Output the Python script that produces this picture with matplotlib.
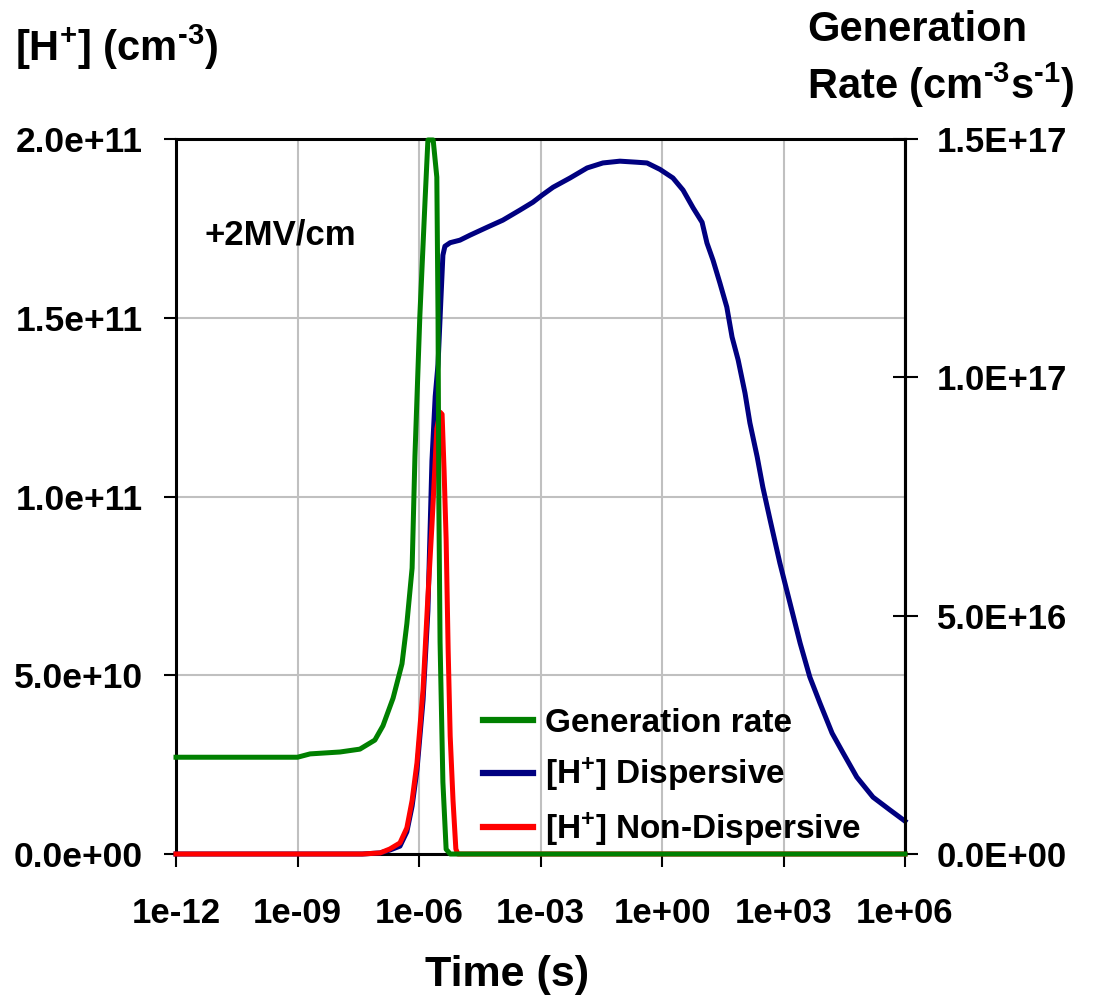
# -*- coding: utf-8 -*-
"""
H+ 浓度与产生率随时间变化曲线
"""

import numpy as np
import matplotlib
matplotlib.use("Agg")
import matplotlib.pyplot as plt
from matplotlib.ticker import FuncFormatter, FixedLocator, NullLocator

plt.rcParams["font.family"] = ["Liberation Sans", "DejaVu Sans"]
plt.rcParams["font.weight"] = "bold"
plt.rcParams["mathtext.fontset"] = "custom"
plt.rcParams["mathtext.rm"] = "Liberation Sans:bold"
plt.rcParams["mathtext.it"] = "Liberation Sans:bold"
plt.rcParams["mathtext.bf"] = "Liberation Sans:bold"
plt.rcParams["mathtext.default"] = "rm"

# 产生率 (cm^-3 s^-1)，时间取 log10(t)
gen_logt = [-12.0, -9.0, -8.69, -7.95, -7.46, -7.09, -6.89, -6.64, -6.42, -6.30,
            -6.17, -6.10, -5.98, -5.85, -5.78, -5.65, -5.56, -5.53, -5.51, -5.48,
            -5.41, -5.33, -5.23, 6.0]
gen_rate = [2.03e16, 2.03e16, 2.10e16, 2.14e16, 2.20e16, 2.39e16, 2.69e16, 3.27e16,
            3.99e16, 4.83e16, 6.0e16, 8.35e16, 1.127e17, 1.372e17, 1.498e17, 1.498e17,
            1.42e17, 1.127e17, 7.36e16, 4.45e16, 1.51e16, 1.0e15, 0.0, 0.0]

# [H+] 色散模型 (cm^-3)
disp_logt = [-12.0, -7.4, -6.96, -6.72, -6.47, -6.30, -6.17, -6.05, -5.90, -5.78,
             -5.68, -5.60, -5.53, -5.46, -5.41, -5.36, -5.23, -4.99, -4.74, -4.32,
             -3.93, -3.51, -3.19, -2.96, -2.69, -2.27, -1.85, -1.46, -1.04, -0.62,
             -0.37, -0.05, 0.27, 0.52, 0.77, 0.99, 1.11, 1.26, 1.43, 1.60,
             1.73, 1.88, 2.05, 2.17, 2.35, 2.49, 2.67, 2.91, 3.16, 3.41,
             3.65, 3.90, 4.20, 4.47, 4.81, 5.21, 5.63, 6.0]
disp_h = [0.0, 0.0, 3e8, 1.1e9, 2.2e9, 6.2e9, 1.34e10, 2.35e10, 4.3e10, 6.8e10,
          1.10e11, 1.28e11, 1.37e11, 1.55e11, 1.675e11, 1.70e11, 1.71e11, 1.717e11, 1.731e11, 1.753e11,
          1.773e11, 1.801e11, 1.823e11, 1.843e11, 1.865e11, 1.891e11, 1.919e11, 1.933e11, 1.938e11, 1.935e11,
          1.933e11, 1.915e11, 1.891e11, 1.857e11, 1.807e11, 1.767e11, 1.709e11, 1.661e11, 1.597e11, 1.530e11,
          1.446e11, 1.382e11, 1.289e11, 1.206e11, 1.111e11, 1.026e11, 9.34e10, 8.14e10, 7.02e10, 5.90e10,
          4.95e10, 4.22e10, 3.38e10, 2.83e10, 2.15e10, 1.59e10, 1.23e10, 9.2e9]

# [H+] 非色散模型 (cm^-3)
nondisp_logt = [-12.0, -7.4, -6.96, -6.72, -6.47, -6.30, -6.17, -6.05, -5.90, -5.78,
                -5.68, -5.56, -5.48, -5.43, -5.38, -5.33, -5.28, -5.23, -5.16, -5.09,
                -5.04, 6.0]
nondisp_h = [0.0, 0.0, 3e8, 1.4e9, 3.1e9, 7.3e9, 1.5e10, 2.55e10, 4.6e10, 7.2e10,
             9.2e10, 1.19e11, 1.236e11, 1.23e11, 1.07e11, 8.8e10, 5.7e10, 3.3e10, 1.5e10, 1.4e9,
             0.0, 0.0]

x_ticks = [1e-12, 1e-9, 1e-6, 1e-3, 1e0, 1e3, 1e6]
left_ticks = [0.0, 5e10, 1e11, 1.5e11, 2e11]
right_ticks = [0.0, 5e16, 1e17, 1.5e17]

HY = "\u2010"  # 上标里用短连字符

fig = plt.figure(figsize=(10.95, 10.02), dpi=100)
ax1 = fig.add_axes([176 / 1095, 1 - 854 / 1002, 729 / 1095, 715 / 1002])
ax2 = ax1.twinx()

lw = 3.6
l_disp, = ax1.plot(10 ** np.array(disp_logt), disp_h, color="#000080", lw=lw,
                   zorder=3, clip_on=False, solid_joinstyle="round")
l_nd, = ax1.plot(10 ** np.array(nondisp_logt), nondisp_h, color="#FF0000", lw=lw,
                 zorder=4, clip_on=False, solid_joinstyle="round")
l_gen, = ax2.plot(10 ** np.array(gen_logt), gen_rate, color="#008000", lw=lw,
                  zorder=3, clip_on=False, solid_joinstyle="round")

ax1.set_xscale("log")
ax1.set_xlim(1e-12, 1e6)
ax1.set_ylim(0, 2e11)
ax2.set_ylim(0, 1.5e17)

ax1.xaxis.set_major_locator(FixedLocator(x_ticks))
ax1.xaxis.set_minor_locator(NullLocator())
ax1.yaxis.set_major_locator(FixedLocator(left_ticks))
ax2.yaxis.set_major_locator(FixedLocator(right_ticks))
ax1.xaxis.set_major_formatter(FuncFormatter(lambda v, p: f"{v:.0e}"))
ax1.yaxis.set_major_formatter(FuncFormatter(lambda v, p: f"{v:.1e}"))
ax2.yaxis.set_major_formatter(FuncFormatter(lambda v, p: f"{v:.1E}"))

ax1.grid(True, color="#C0C0C0", lw=1.5)
ax1.set_axisbelow(True)

for sp in ax1.spines.values():
    sp.set_linewidth(2.2)
for name in ["left", "top", "bottom"]:
    ax2.spines[name].set_visible(False)
ax2.spines["right"].set_linewidth(2.2)

ax1.tick_params(axis="x", direction="out", length=9, width=1.5, labelsize=25, pad=22)
ax1.tick_params(axis="y", direction="out", length=9, width=1.5, labelsize=25.5, pad=15)
ax2.tick_params(axis="y", direction="inout", length=18, width=1.5, labelsize=25, pad=14)

# 坐标轴标题
fig.text(507 / 1095, 1 - 975 / 1002, "Time (s)", fontsize=31, fontweight="bold",
         ha="center", va="center")
fig.text(15 / 1095, 1 - 47 / 1002, r"[H$^{+}$] (cm$^{" + HY + "3}$)", fontsize=30,
         fontweight="bold", ha="left", va="center")
fig.text(807 / 1095, 1 - 30 / 1002, "Generation", fontsize=30, fontweight="bold",
         ha="left", va="center")
fig.text(807 / 1095, 1 - 85 / 1002,
         r"Rate (cm$^{" + HY + "3}$s$^{" + HY + "1}$)", fontsize=30,
         fontweight="bold", ha="left", va="center")

ax1.text(205 / 1095, 1 - 235 / 1002, "+2MV/cm", transform=fig.transFigure,
         fontsize=25, fontweight="bold", ha="left", va="center")

leg = ax2.legend([l_gen, l_disp, l_nd],
                 ["Generation rate", r"[H$^{+}$] Dispersive", r"[H$^{+}$] Non-Dispersive"],
                 loc="upper left", bbox_to_anchor=(483 / 1095, 1 - 708 / 1002),
                 bbox_transform=fig.transFigure, frameon=False, fontsize=24,
                 handlelength=1.5, handletextpad=0.35, labelspacing=0.5,
                 borderpad=0, borderaxespad=0)
for h in leg.get_lines():
    h.set_linewidth(4.5)

fig.savefig("out.png", dpi=100)
